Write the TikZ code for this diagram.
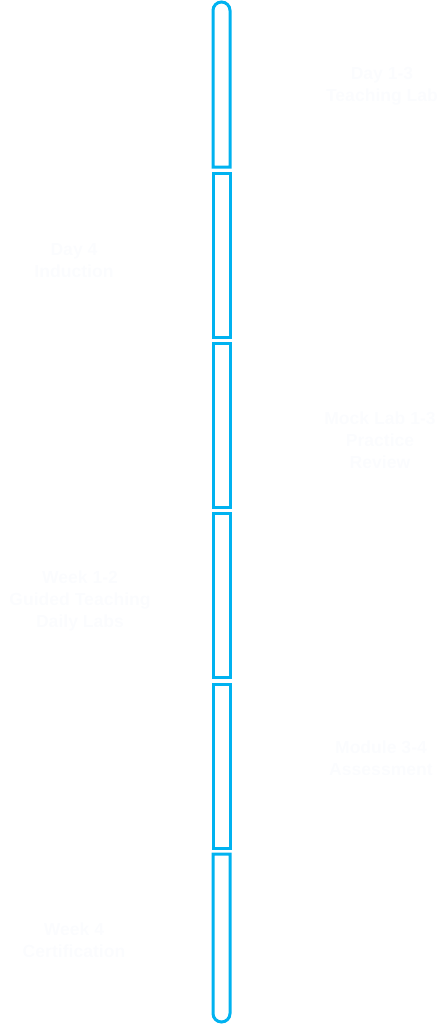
\documentclass[tikz,border=0pt]{standalone}
\usepackage{fontspec}
\setmainfont{Liberation Sans}
\usepackage{tikz}
\usetikzlibrary{positioning}
\usepackage{xcolor}
\definecolor{barblue}{RGB}{0,178,240}
\definecolor{faint}{RGB}{251,252,254}
\tikzset{
	barpart/.style={draw=barblue, line width=0.06cm},
	stagelabel/.style={text=faint, font=\bfseries\fontsize{10}{12.5}\selectfont, align=center}
}

\begin{document}
\begin{tikzpicture}[x=0.02cm,y=-0.02cm]
		\useasboundingbox (0,0) rectangle (440,1024);
		% top and bottom parts
		\draw[barpart] (213,167) -- (213,10.5) arc (180:360:8.5) -- (230,167) --cycle;
		\draw[barpart] (213,854) -- (213,1013.5) arc (180:0:8.5) -- (230,854) --cycle;
		\foreach \y in {173,343,513,684}{
			\draw[barpart] (213,\y) rectangle (230,\y+164);
		}
		\node[stagelabel] (S1) at (382,86) {Day 1-3\\Teaching Lab};
		\node[stagelabel] (S2) at (74,261) {Day 4\\Induction};
		\node[stagelabel] (S3) at (380,440) {Mock Lab 1-3\\Practice\\Review};
		\node[stagelabel] (S4) at (80,601) {Week 1-2\\Guided Teaching\\Daily Labs};
		\node[stagelabel] (S5) at (381,758) {Module 3-4\\Assessment};
		\node[stagelabel] (S6) at (74,940) {Week 4\\Certification};
		\end{tikzpicture}
\end{document}
